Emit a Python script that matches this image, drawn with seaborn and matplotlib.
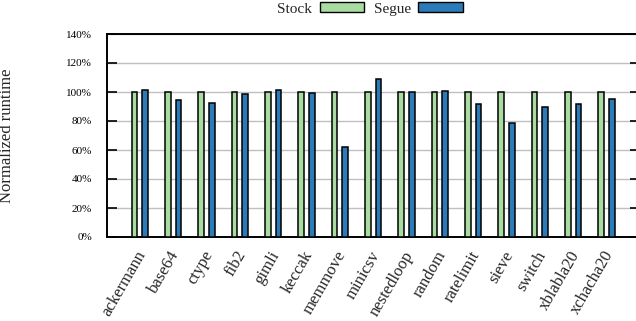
import pandas as pd
import matplotlib.pyplot as plt
import matplotlib.transforms as mtransforms
import seaborn as sns
from matplotlib.patches import Patch

sns.set_style('white')
plt.rcParams['font.family'] = ['Liberation Serif', 'DejaVu Serif']

# 벤치마크와 정규화된 실행시간 (%)
benchmarks = ['ackermann', 'base64', 'ctype', 'fib2', 'gimli', 'keccak', 'memmove',
              'minicsv', 'nestedloop', 'random', 'ratelimit', 'sieve', 'switch',
              'xblabla20', 'xchacha20']
stock = [100] * len(benchmarks)
segue = [101.6, 94.6, 92.4, 98.9, 101.1, 99.1, 62.4, 108.7, 100.2, 100.9,
         92.0, 78.9, 89.9, 92.0, 95.0]
series_names = ['Stock', 'Segue']
colors = ['#a8dca0', '#2b7bb9']

df = pd.DataFrame({
    'benchmark': benchmarks * 2,
    'config': ['Stock'] * len(benchmarks) + ['Segue'] * len(benchmarks),
    'runtime': stock + segue,
})

fig = plt.figure(figsize=(6.36, 3.21), dpi=100)
ax = fig.add_axes([106.5 / 636, 84 / 321, 533.5 / 636, 203 / 321])

sns.barplot(data=df, x='benchmark', y='runtime', hue='config', hue_order=series_names,
            palette=colors, width=0.64, gap=0.47, edgecolor='black', linewidth=1.1,
            saturation=1, legend=False, ax=ax, zorder=3)

ax.set_xlim(-1, 15)
ax.set_ylim(0, 140)
ax.set_yticks(range(0, 141, 20))
ax.set_yticklabels([f'{v}%' for v in range(0, 141, 20)], fontsize=8)
ax.yaxis.grid(True, color='#c0c0c0', linewidth=1, zorder=0)
ax.xaxis.grid(False)
ax.tick_params(axis='y', which='both', direction='in', length=7.2, width=1.2,
               left=True, right=True, pad=10.5, colors='black')
ax.tick_params(axis='x', length=0, pad=8)
ax.set_xticks(range(len(benchmarks)))
ax.set_xticklabels(benchmarks, rotation=60, ha='right', va='top',
                   rotation_mode='anchor', fontsize=12)
# 라벨을 약간 왼쪽으로 이동
shift = mtransforms.ScaledTranslation(-4 / 100, 0, fig.dpi_scale_trans)
for lbl in ax.get_xticklabels():
    lbl.set_transform(lbl.get_transform() + shift)
for s in ax.spines.values():
    s.set_color('black')
    s.set_linewidth(1.4)

ax.set_xlabel('')
ax.set_ylabel('Normalized runtime', fontsize=12)
ax.yaxis.set_label_coords((15 - 106.5) / 533.5, 0.5)

# 범례 (텍스트 먼저, 그 다음 상자)
handles = [Patch(facecolor=c, edgecolor='black', linewidth=1) for c in colors]
fig.legend(handles, series_names, loc='center', bbox_to_anchor=(370 / 636, 1 - 9 / 321),
           ncol=2, frameon=False, markerfirst=False, fontsize=11,
           handlelength=2.9, handleheight=0.65, handletextpad=0.5, columnspacing=0.6,
           borderaxespad=0, borderpad=0)

fig.savefig('out.png', dpi=100)
plt.close()
